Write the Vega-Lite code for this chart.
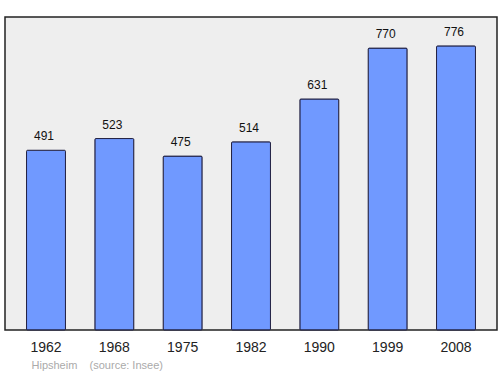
{
  "$schema": "https://vega.github.io/schema/vega-lite/v6.json",
  "width": 492,
  "height": 313,
  "autosize": {"type": "none"},
  "padding": {"left": 5, "top": 17, "right": 3, "bottom": 44},
  "background": "#ffffff",
  "config": {
    "view": {"fill": "#eeeeee", "stroke": "#222222", "strokeWidth": 1.5},
    "font": "Liberation Sans"
  },
  "data": {
    "values": [
      {"year": "1962", "pop": 491},
      {"year": "1968", "pop": 523},
      {"year": "1975", "pop": 475},
      {"year": "1982", "pop": 514},
      {"year": "1990", "pop": 631},
      {"year": "1999", "pop": 770},
      {"year": "2008", "pop": 776}
    ]
  },
  "encoding": {
    "x": {
      "field": "year",
      "type": "ordinal",
      "sort": null,
      "scale": {"paddingInner": 0.43, "paddingOuter": 0.315},
      "axis": {
        "labelAngle": 0,
        "labelFontSize": 14,
        "labelColor": "#222222",
        "labelPadding": 10,
        "ticks": false,
        "domain": false,
        "title": "Hipsheim\u00a0\u00a0\u00a0\u00a0(source: Insee)",
        "titleFontSize": 11,
        "titleFontWeight": "normal",
        "titleColor": "#aaaaaa",
        "titleAnchor": "start",
        "titleAlign": "left",
        "titleBaseline": "alphabetic",
        "titleX": 26,
        "titleY": 38
      }
    },
    "y": {
      "field": "pop",
      "type": "quantitative",
      "scale": {"domain": [0, 855], "nice": false},
      "axis": null
    }
  },
  "layer": [
    {
      "mark": {"type": "bar", "color": "#7099ff", "stroke": "#222244", "strokeWidth": 1, "cornerRadius": 1}
    },
    {
      "mark": {"type": "text", "baseline": "alphabetic", "dy": -10, "dx": -2, "fontSize": 12, "color": "#111111"},
      "encoding": {"text": {"field": "pop", "type": "quantitative"}}
    }
  ]
}
